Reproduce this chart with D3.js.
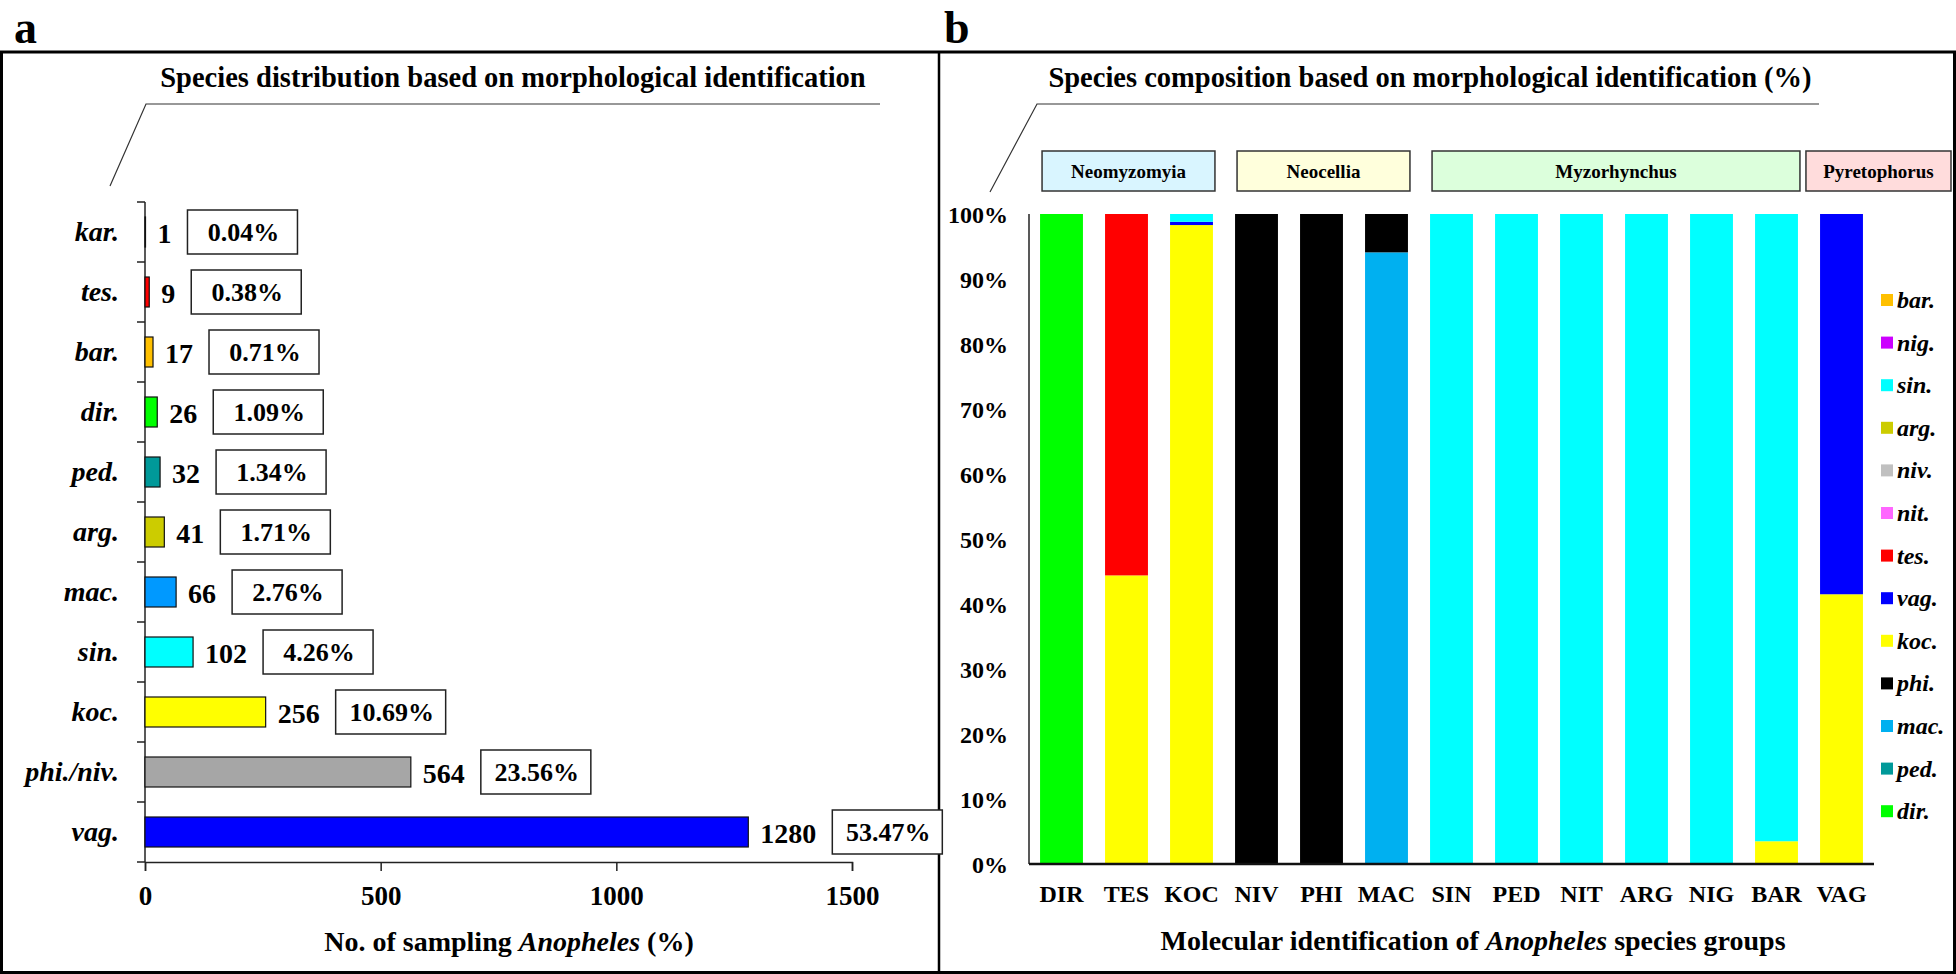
<!DOCTYPE html>
<html><head><meta charset="utf-8">
<script src="https://cdn.jsdelivr.net/npm/d3@7"></script>
<style>
html,body{margin:0;padding:0;background:#fff;}
svg{display:block;font-family:'Liberation Serif','Times New Roman',serif;font-weight:bold;}
</style></head>
<body>
<script>
// ---------- Panel a data ----------
const aCategories = ["kar.","tes.","bar.","dir.","ped.","arg.","mac.","sin.","koc.","phi./niv.","vag."];
const aCounts     = [1, 9, 17, 26, 32, 41, 66, 102, 256, 564, 1280];
const aPercents   = ["0.04%","0.38%","0.71%","1.09%","1.34%","1.71%","2.76%","4.26%","10.69%","23.56%","53.47%"];
const aColors     = ["#000000","#FF0000","#FFC000","#00FF00","#009999","#CCCC00","#0099FF","#00FFFF","#FFFF00","#A6A6A6","#0000FF"];
const aTicks      = [0, 500, 1000, 1500];

// ---------- Panel b data ----------
const bCategories = ["DIR","TES","KOC","NIV","PHI","MAC","SIN","PED","NIT","ARG","NIG","BAR","VAG"];
// series in stacking order (bottom first)
const bSeries = ["dir.","ped.","mac.","phi.","koc.","vag.","tes.","nit.","niv.","arg.","sin.","nig.","bar."];
const bSeriesColors = ["#00FF00","#009999","#00B0F0","#000000","#FFFF00","#0000FF","#FF0000","#FF66FF","#C0C0C0","#CCCC00","#00FFFF","#CC00FF","#FFC000"];
// percent values per series, one entry per category (DIR..VAG)
const s_dir = [100, 0,    0,    0,   0,   0,    0,   0,   0,   0,   0,   0,    0];
const s_ped = [0,   0,    0,    0,   0,   0,    0,   0,   0,   0,   0,   0,    0];
const s_mac = [0,   0,    0,    0,   0,   94.1, 0,   0,   0,   0,   0,   0,    0];
const s_phi = [0,   0,    0,    100, 100, 5.9,  0,   0,   0,   0,   0,   0,    0];
const s_koc = [0,   44.4, 98.3, 0,   0,   0,    0,   0,   0,   0,   0,   3.5,  41.5];
const s_vag = [0,   0,    0.5,  0,   0,   0,    0,   0,   0,   0,   0,   0,    58.5];
const s_tes = [0,   55.6, 0,    0,   0,   0,    0,   0,   0,   0,   0,   0,    0];
const s_nit = [0,   0,    0,    0,   0,   0,    0,   0,   0,   0,   0,   0,    0];
const s_niv = [0,   0,    0,    0,   0,   0,    0,   0,   0,   0,   0,   0,    0];
const s_arg = [0,   0,    0,    0,   0,   0,    0,   0,   0,   0,   0,   0,    0];
const s_sin = [0,   0,    1.2,  0,   0,   0,    100, 100, 100, 100, 100, 96.5, 0];
const s_nig = [0,   0,    0,    0,   0,   0,    0,   0,   0,   0,   0,   0,    0];
const s_bar = [0,   0,    0,    0,   0,   0,    0,   0,   0,   0,   0,   0,    0];
const bValues = [s_dir,s_ped,s_mac,s_phi,s_koc,s_vag,s_tes,s_nit,s_niv,s_arg,s_sin,s_nig,s_bar];
const bTicks = [0,10,20,30,40,50,60,70,80,90,100];
const bGroups = ["Neomyzomyia","Neocellia","Myzorhynchus","Pyretophorus"];
const bGroupMembers = [["DIR","KOC"],["NIV","MAC"],["SIN","BAR"],["VAG","VAG"]];
const bGroupColors = ["#D9F5FF","#FFFFDC","#DCFFDC","#FFDCDC"];

// ---------- Layout ----------
const W = 1956, H = 974;
const svg = d3.select("body").append("svg").attr("width", W).attr("height", H);

// frame
svg.append("rect").attr("x",1.5).attr("y",52).attr("width",W-3).attr("height",H-53.5)
  .attr("fill","none").attr("stroke","#000").attr("stroke-width",3);
svg.append("line").attr("x1",939).attr("x2",939).attr("y1",52).attr("y2",H-1)
  .attr("stroke","#000").attr("stroke-width",2.5);
svg.append("text").attr("x",14).attr("y",43).attr("font-size",46).text("a");
svg.append("text").attr("x",944).attr("y",43).attr("font-size",46).text("b");

// ================= Panel a =================
const ga = svg.append("g");
ga.append("text").attr("x",513).attr("y",87).attr("text-anchor","middle").attr("font-size",28.5)
  .text("Species distribution based on morphological identification");
ga.append("polyline").attr("points","110,186 146,104 880,104").attr("fill","none").attr("stroke","#333").attr("stroke-width",1.2);

const xA = d3.scaleLinear().domain([0,1500]).range([145,852]);
const yA = d3.scaleBand().domain(aCategories).range([202,862]).paddingInner(0.5).paddingOuter(0.25);

// y axis line + boundary ticks
ga.append("line").attr("x1",145).attr("x2",145).attr("y1",202).attr("y2",862).attr("stroke","#222").attr("stroke-width",1.5);
const stepA = yA.step();
d3.range(aCategories.length+1).forEach(i=>{
  const y = 202 + i*stepA;
  ga.append("line").attr("x1",137).attr("x2",145).attr("y1",y).attr("y2",y).attr("stroke","#222").attr("stroke-width",1.5);
});
// x axis
const xAxisA = d3.axisBottom(xA).tickValues(aTicks).tickSize(9).tickFormat(d3.format("d"));
const gxa = ga.append("g").attr("transform","translate(0,862)").call(xAxisA);
gxa.select(".domain").attr("stroke","#222").attr("stroke-width",1.5);
gxa.selectAll(".tick line").attr("stroke","#222").attr("stroke-width",1.5);
gxa.selectAll(".tick text").attr("font-size",27).attr("font-family","'Liberation Serif',serif").attr("font-weight","bold").attr("fill","#000").attr("dy",0).attr("y",43);

// category labels
ga.selectAll(".acat").data(aCategories).enter().append("text")
  .attr("x",119).attr("y",d=>yA(d)+yA.bandwidth()/2+9).attr("text-anchor","end")
  .attr("font-size",28).attr("font-style","italic").text(d=>d);

// bars
ga.selectAll(".abar").data(aCategories).enter().append("rect")
  .attr("x",xA(0)).attr("y",d=>yA(d)).attr("height",yA.bandwidth())
  .attr("width",(d,i)=>Math.max(0.5, xA(aCounts[i])-xA(0)))
  .attr("fill",(d,i)=>aColors[i]).attr("stroke","#111").attr("stroke-width",1.2);

// value labels + percent boxes
aCategories.forEach((c,i)=>{
  const cy = yA(c)+yA.bandwidth()/2;
  const tx = xA(aCounts[i]) + 12;
  const t = ga.append("text").attr("x",tx).attr("y",cy+11).attr("font-size",28).text(aCounts[i]);
  const tw = t.node().getComputedTextLength();
  const bx = tx + tw + 16;
  ga.append("rect").attr("x",bx).attr("y",cy-22).attr("width",110).attr("height",44)
    .attr("fill","#fff").attr("stroke","#222").attr("stroke-width",1.5);
  ga.append("text").attr("x",bx+56).attr("y",cy+9).attr("text-anchor","middle").attr("font-size",26).text(aPercents[i]);
});

// x axis title
const ta = ga.append("text").attr("x",509).attr("y",951).attr("text-anchor","middle").attr("font-size",28);
ta.append("tspan").text("No. of sampling ");
ta.append("tspan").attr("font-style","italic").text("Anopheles");
ta.append("tspan").text(" (%)");

// ================= Panel b =================
const gb = svg.append("g");
gb.append("text").attr("x",1430).attr("y",87).attr("text-anchor","middle").attr("font-size",28.5)
  .text("Species composition based on morphological identification (%)");
gb.append("polyline").attr("points","990,192 1037,104 1819,104").attr("fill","none").attr("stroke","#333").attr("stroke-width",1.2);

const xB = d3.scaleBand().domain(bCategories).range([1029,1874]).paddingInner(0.34).paddingOuter(0.17);
const yB = d3.scaleLinear().domain([0,100]).range([864,214]);

// stacked data
const rows = bCategories.map((c,j)=>{
  const o = {cat:c};
  bSeries.forEach((s,k)=>{ o[s] = bValues[k][j]; });
  return o;
});
const stacked = d3.stack().keys(bSeries)(rows);
gb.selectAll(".ser").data(stacked).enter().append("g")
  .attr("fill",(d,k)=>bSeriesColors[k])
  .selectAll("rect").data(d=>d).enter().append("rect")
  .attr("x",d=>xB(d.data.cat)).attr("width",xB.bandwidth())
  .attr("y",d=>yB(d[1])).attr("height",d=>Math.max(0,yB(d[0])-yB(d[1])));

// axes
gb.append("line").attr("x1",1029).attr("x2",1029).attr("y1",214).attr("y2",864).attr("stroke","#222").attr("stroke-width",1.5);
gb.append("line").attr("x1",1029).attr("x2",1874).attr("y1",864).attr("y2",864).attr("stroke","#111").attr("stroke-width",2.5);
gb.selectAll(".ytk").data(bTicks).enter().append("text")
  .attr("x",1008).attr("y",d=>yB(d)+9).attr("text-anchor","end").attr("font-size",24).text(d=>d+"%");
gb.selectAll(".xcat").data(bCategories).enter().append("text")
  .attr("x",d=>xB(d)+xB.bandwidth()/2).attr("y",902).attr("text-anchor","middle").attr("font-size",24).text(d=>d);

const tb = gb.append("text").attr("x",1473).attr("y",950).attr("text-anchor","middle").attr("font-size",28);
tb.append("tspan").text("Molecular identification of ");
tb.append("tspan").attr("font-style","italic").text("Anopheles");
tb.append("tspan").text(" species groups");

// group boxes
let prevEnd = 0;
bGroups.forEach((g,i)=>{
  const [a,b] = bGroupMembers[i];
  let x0 = xB(a)+2, x1 = xB(b)+xB.bandwidth()+2;
  if (i === bGroups.length-1) { x0 = prevEnd + 6; x1 = W - 5; }
  prevEnd = x1;
  gb.append("rect").attr("x",x0).attr("y",151).attr("width",x1-x0).attr("height",40)
    .attr("fill",bGroupColors[i]).attr("stroke","#333").attr("stroke-width",1.5);
  gb.append("text").attr("x",(x0+x1)/2).attr("y",178).attr("text-anchor","middle").attr("font-size",19).text(g);
});

// legend (top = last series)
const legendItems = bSeries.map((s,k)=>({s, c:bSeriesColors[k]})).reverse();
const lg = gb.append("g");
legendItems.forEach((d,i)=>{
  const cy = 300 + i*42.6;
  lg.append("rect").attr("x",1881).attr("y",cy-6).attr("width",12).attr("height",12).attr("fill",d.c);
  lg.append("text").attr("x",1897).attr("y",cy+8).attr("font-size",24).attr("font-style","italic").text(d.s);
});
</script>
</body></html>
